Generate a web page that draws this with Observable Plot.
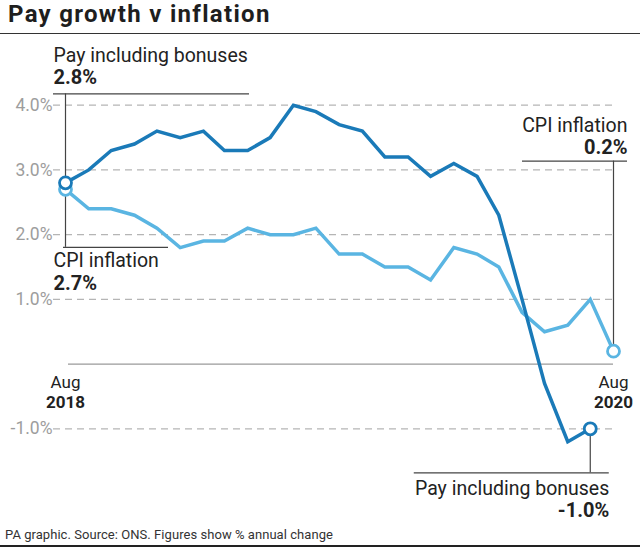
<!DOCTYPE html>
<html>
<head>
<meta charset="utf-8">
<script src="https://cdn.jsdelivr.net/npm/d3@7"></script>
<script src="https://cdn.jsdelivr.net/npm/@observablehq/plot@0.6"></script>
<style>
  body { margin: 0; background: #fff; font-family: Roboto, "Liberation Sans", sans-serif; }
  #wrap { position: relative; width: 640px; height: 549px; overflow: hidden; background: #fff; }
  #title { position: absolute; left: 8px; top: 0px; font-size: 24px; font-weight: 700; color: #1e1e1e; line-height: normal; letter-spacing: 1.3px; white-space: nowrap; }
  #titlerule { position: absolute; left: 0; top: 32.5px; width: 640px; height: 1.5px; background: #333; }
  #chart { position: absolute; left: 0; top: 34px; }
  #foot { position: absolute; left: 5px; top: 527px; font-size: 13px; line-height: 16px; color: #333; white-space: nowrap; letter-spacing: 0.05px; }
  #footrule { position: absolute; left: 0; top: 545px; width: 640px; height: 2px; background: #222; }
</style>
</head>
<body>
<div id="wrap">
  <div id="title">Pay growth v inflation</div>
  <div id="titlerule"></div>
  <div id="chart"></div>
  <div id="foot">PA graphic. Source: ONS. Figures show % annual change</div>
  <div id="footrule"></div>
</div>
<script>
// ---- Data ----
const months = ["2018-08","2018-09","2018-10","2018-11","2018-12",
  "2019-01","2019-02","2019-03","2019-04","2019-05","2019-06","2019-07","2019-08","2019-09","2019-10","2019-11","2019-12",
  "2020-01","2020-02","2020-03","2020-04","2020-05","2020-06","2020-07","2020-08"];
const payValues = [2.8,3.0,3.3,3.4,3.6,3.5,3.6,3.3,3.3,3.5,4.0,3.9,3.7,3.6,3.2,3.2,2.9,3.1,2.9,2.3,1.0,-0.3,-1.2,-1.0];
const cpiValues = [2.7,2.4,2.4,2.3,2.1,1.8,1.9,1.9,2.1,2.0,2.0,2.1,1.7,1.7,1.5,1.5,1.3,1.8,1.7,1.5,0.8,0.5,0.6,1.0,0.2];
const yTicks = [4, 3, 2, 1, -1];
const seriesNames = ["Pay including bonuses", "CPI inflation"];
const xLabelMonths = ["2018-08", "2020-08"];

// ---- Build tables ----
const parse = d3.utcParse("%Y-%m");
const pay = payValues.map((v, i) => ({date: parse(months[i]), value: v}));
const cpi = cpiValues.map((v, i) => ({date: parse(months[i]), value: v}));
const fmt = v => v.toFixed(1) + "%";
const xLabels = xLabelMonths.map(m => ({date: parse(m), month: d3.utcFormat("%b")(parse(m)), year: d3.utcFormat("%Y")(parse(m))}));

const payFirst = pay[0], payLast = pay[pay.length - 1];
const cpiFirst = cpi[0], cpiLast = cpi[cpi.length - 1];

const PAY = "#1a7ab8", CPI = "#5ab5e2", INK = "#222", LINK = "#444";
const FS = 19.5;

// callout helpers (pixel offsets relative to the data point)
function callout(pt, name, o) {
  const d = [pt];
  const marks = [];
  marks.push(Plot.ruleX(d, {x: "date", y1: "value", y2: "value", stroke: LINK, strokeWidth: 1.2,
    insetTop: o.up ? -o.len : 0, insetBottom: o.up ? 0 : -o.len}));
  marks.push(Plot.ruleY(d, {x1: "date", x2: "date", y: "value", stroke: LINK, strokeWidth: 1.2,
    insetLeft: -o.hl, insetRight: -o.hr, dy: o.up ? -o.len : o.len}));
  marks.push(Plot.text(d, {x: "date", y: "value", text: () => name, fill: INK, fontSize: FS,
    textAnchor: o.anchor, lineAnchor: "bottom", dx: o.tx, dy: o.t1}));
  marks.push(Plot.text(d, {x: "date", y: "value", text: p => fmt(p.value), fill: INK, fontSize: FS + 0.5, fontWeight: 700,
    textAnchor: o.anchor, lineAnchor: "bottom", dx: o.tx, dy: o.t2}));
  return marks;
}

const chart = Plot.plot({
  width: 640,
  height: 488,
  marginLeft: 65,
  marginRight: 27,
  marginTop: 6,
  marginBottom: 29,
  style: {fontFamily: "Roboto, 'Liberation Sans', sans-serif", background: "transparent"},
  x: {type: "utc", domain: [parse(months[0]), parse(months[months.length - 1])], axis: null},
  y: {domain: [-2, 5], axis: null},
  marks: [
    Plot.ruleY(yTicks, {stroke: "#b5b5b5", strokeWidth: 1.2, strokeDasharray: "7,5", insetLeft: -12}),
    Plot.ruleY([0], {stroke: "#9a9a9a", strokeWidth: 1.2, insetLeft: 3}),
    Plot.axisY(yTicks, {tickSize: 0, tickPadding: 13, tickFormat: fmt, fill: "#9d9d9d", fontSize: 17.5, label: null}),
    Plot.text(xLabels, {x: "date", y: () => 0, text: "month", fill: INK, fontSize: 17, lineAnchor: "bottom", dy: 24}),
    Plot.text(xLabels, {x: "date", y: () => 0, text: "year", fill: INK, fontSize: 17, fontWeight: 700, lineAnchor: "bottom", dy: 44}),
    ...callout(payFirst, seriesNames[0], {up: true, len: 89, hl: 12, hr: 184, anchor: "start", tx: -12, t1: -121, t2: -99}),
    ...callout(cpiFirst, seriesNames[1], {up: false, len: 58, hl: 2, hr: 103, anchor: "start", tx: -12, t1: 78, t2: 101}),
    ...callout(cpiLast, seriesNames[1], {up: true, len: 190, hl: 91, hr: 14, anchor: "end", tx: 14, t1: -219, t2: -197}),
    ...callout(payLast, seriesNames[0], {up: false, len: 44, hl: 176, hr: 19, anchor: "end", tx: 19, t1: 66, t2: 88}),
    Plot.line(cpi, {x: "date", y: "value", stroke: CPI, strokeWidth: 3.5, strokeLinejoin: "miter", strokeMiterlimit: 3}),
    Plot.line(pay, {x: "date", y: "value", stroke: PAY, strokeWidth: 3.5, strokeLinejoin: "miter", strokeMiterlimit: 3}),
    Plot.dot([cpiFirst, cpiLast], {x: "date", y: "value", r: 6, fill: "white", stroke: CPI, strokeWidth: 2.8}),
    Plot.dot([payFirst, payLast], {x: "date", y: "value", r: 6, fill: "white", stroke: PAY, strokeWidth: 2.8})
  ]
});
document.getElementById("chart").appendChild(chart);
</script>
</body>
</html>
